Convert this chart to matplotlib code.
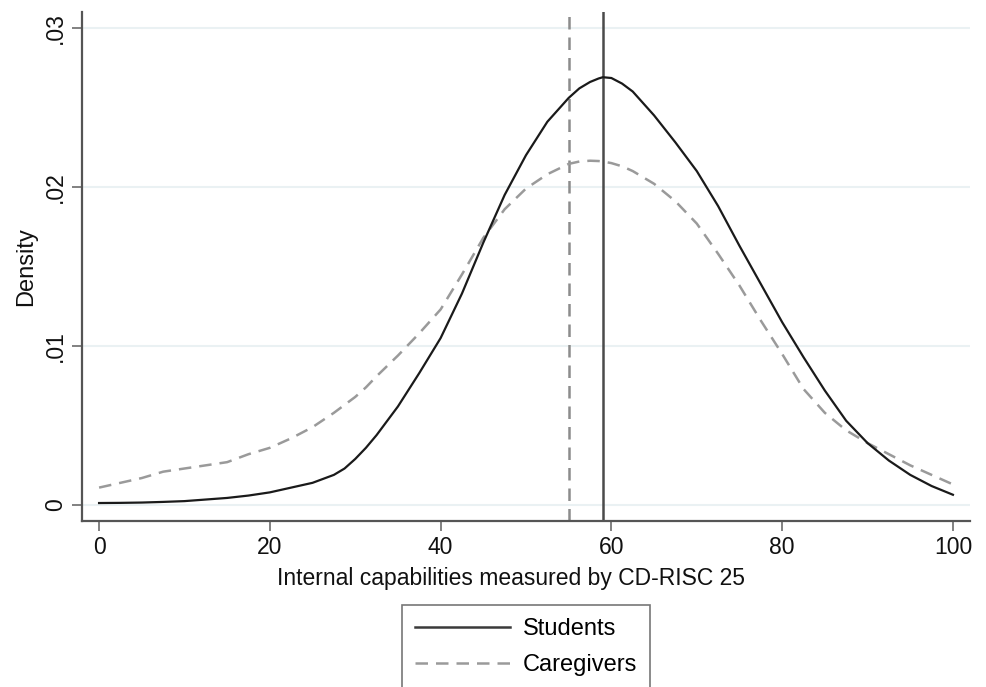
import matplotlib
matplotlib.use("Agg")
import matplotlib.pyplot as plt
from matplotlib.lines import Line2D

plt.rcParams['font.family'] = ['Liberation Sans', 'DejaVu Sans']

x_vals = [0, 2.5, 5, 7.5, 10, 12.5, 15, 17.5, 20, 22.5, 25, 27.5, 28.75, 30, 31.25, 32.5,
          35, 37.5, 40, 42.5, 45, 47.5, 50, 52.5, 55, 56.25, 57.5, 58.5, 59, 60, 61.25,
          62.5, 65, 67.5, 70, 72.5, 75, 77.5, 80, 82.5, 85, 87.5, 90, 92.5, 95, 97.5, 100]
students = [0.00013, 0.00014, 0.00016, 0.0002, 0.00025, 0.00035, 0.00045, 0.0006,
            0.0008, 0.0011, 0.0014, 0.0019, 0.0023, 0.0029, 0.0036, 0.0044,
            0.0062, 0.0083, 0.0105, 0.0133, 0.0165, 0.0195, 0.0220, 0.0241, 0.0256,
            0.0262, 0.0266, 0.02682, 0.0269, 0.02685, 0.0265,
            0.0260, 0.0245, 0.0228, 0.0210, 0.0188, 0.0163, 0.0139, 0.0115,
            0.0093, 0.0072, 0.0053, 0.0039, 0.0028, 0.0019, 0.0012, 0.00065]
caregivers = [0.0011, 0.0014, 0.0017, 0.0021, 0.0023, 0.0025, 0.0027, 0.0032,
              0.0036, 0.0042, 0.0049, 0.0058, 0.0063, 0.0068, 0.0074, 0.0081,
              0.0094, 0.0108, 0.0123, 0.0145, 0.0168, 0.0186, 0.0199, 0.0208, 0.02145,
              0.0216, 0.02165, 0.02163, 0.0216, 0.0215, 0.0213,
              0.0210, 0.0202, 0.0191, 0.0177, 0.0158, 0.0138, 0.0116, 0.0095,
              0.0073, 0.0058, 0.0047, 0.0039, 0.0032, 0.0025, 0.0019, 0.0013]
mean_students = 59.0
mean_caregivers = 55.0

x_ticks = [0, 20, 40, 60, 80, 100]
y_ticks = [0, 0.01, 0.02, 0.03]
y_tick_labels = ['0', '.01', '.02', '.03']
series_labels = ['Students', 'Caregivers']

fig = plt.figure(figsize=(9.87, 6.87), dpi=100)
ax = fig.add_axes([82/987, 1-521/687, (970-82)/987, (521-12)/687])

for yt in y_ticks:
    ax.axhline(yt, color='#eaf1f3', lw=1.5, zorder=0)

ax.axvline(mean_caregivers, color='#8c8c8c', lw=1.8, ls=(0, (5, 3.2)), zorder=2)
ax.axvline(mean_students, color='#4a4a4a', lw=1.8, zorder=2)
ax.plot(x_vals, caregivers, color='#9a9a9a', lw=1.8, ls=(0, (5, 3.2)), zorder=3)
ax.plot(x_vals, students, color='#1a1a1a', lw=1.6, zorder=4)

ax.set_xlim(-2, 102)
ax.set_ylim(-0.001, 0.031)
ax.set_xticks(x_ticks)
ax.set_xticklabels([str(t) for t in x_ticks])
ax.set_yticks(y_ticks)
ax.set_yticklabels(y_tick_labels, rotation=90, va='center')

for s in ['top', 'right']:
    ax.spines[s].set_visible(False)
for s in ['left', 'bottom']:
    ax.spines[s].set_color('#555555')
    ax.spines[s].set_linewidth(1.6)
ax.tick_params(axis='both', direction='out', length=7, width=1.3, color='#777777',
               labelsize=16.5, labelcolor='#111111', pad=4)

ax.set_xlabel('Internal capabilities measured by CD-RISC 25', fontsize=16.5, color='#111111')
ax.xaxis.set_label_coords((511 - 82) / 888, -(578 - 521) / 509 - 0.0)
ax.xaxis.label.set_va('center')
ax.set_ylabel('Density', fontsize=17, color='#111111', labelpad=5)

handles = [Line2D([0], [0], color='#3a3a3a', lw=1.8),
           Line2D([0], [0], color='#9a9a9a', lw=1.8, ls=(0, (5, 3.2)))]
leg = fig.legend(handles, series_labels, loc='upper center', bbox_to_anchor=(526/987, 1-605/687),
                 fontsize=17, frameon=True, fancybox=False, edgecolor='#555555',
                 handlelength=4.0, handletextpad=0.55, borderpad=0.55, labelspacing=0.6,
                 borderaxespad=0, alignment='left')
leg.get_frame().set_linewidth(1.2)

fig.savefig('out.png', dpi=100, facecolor='white')
